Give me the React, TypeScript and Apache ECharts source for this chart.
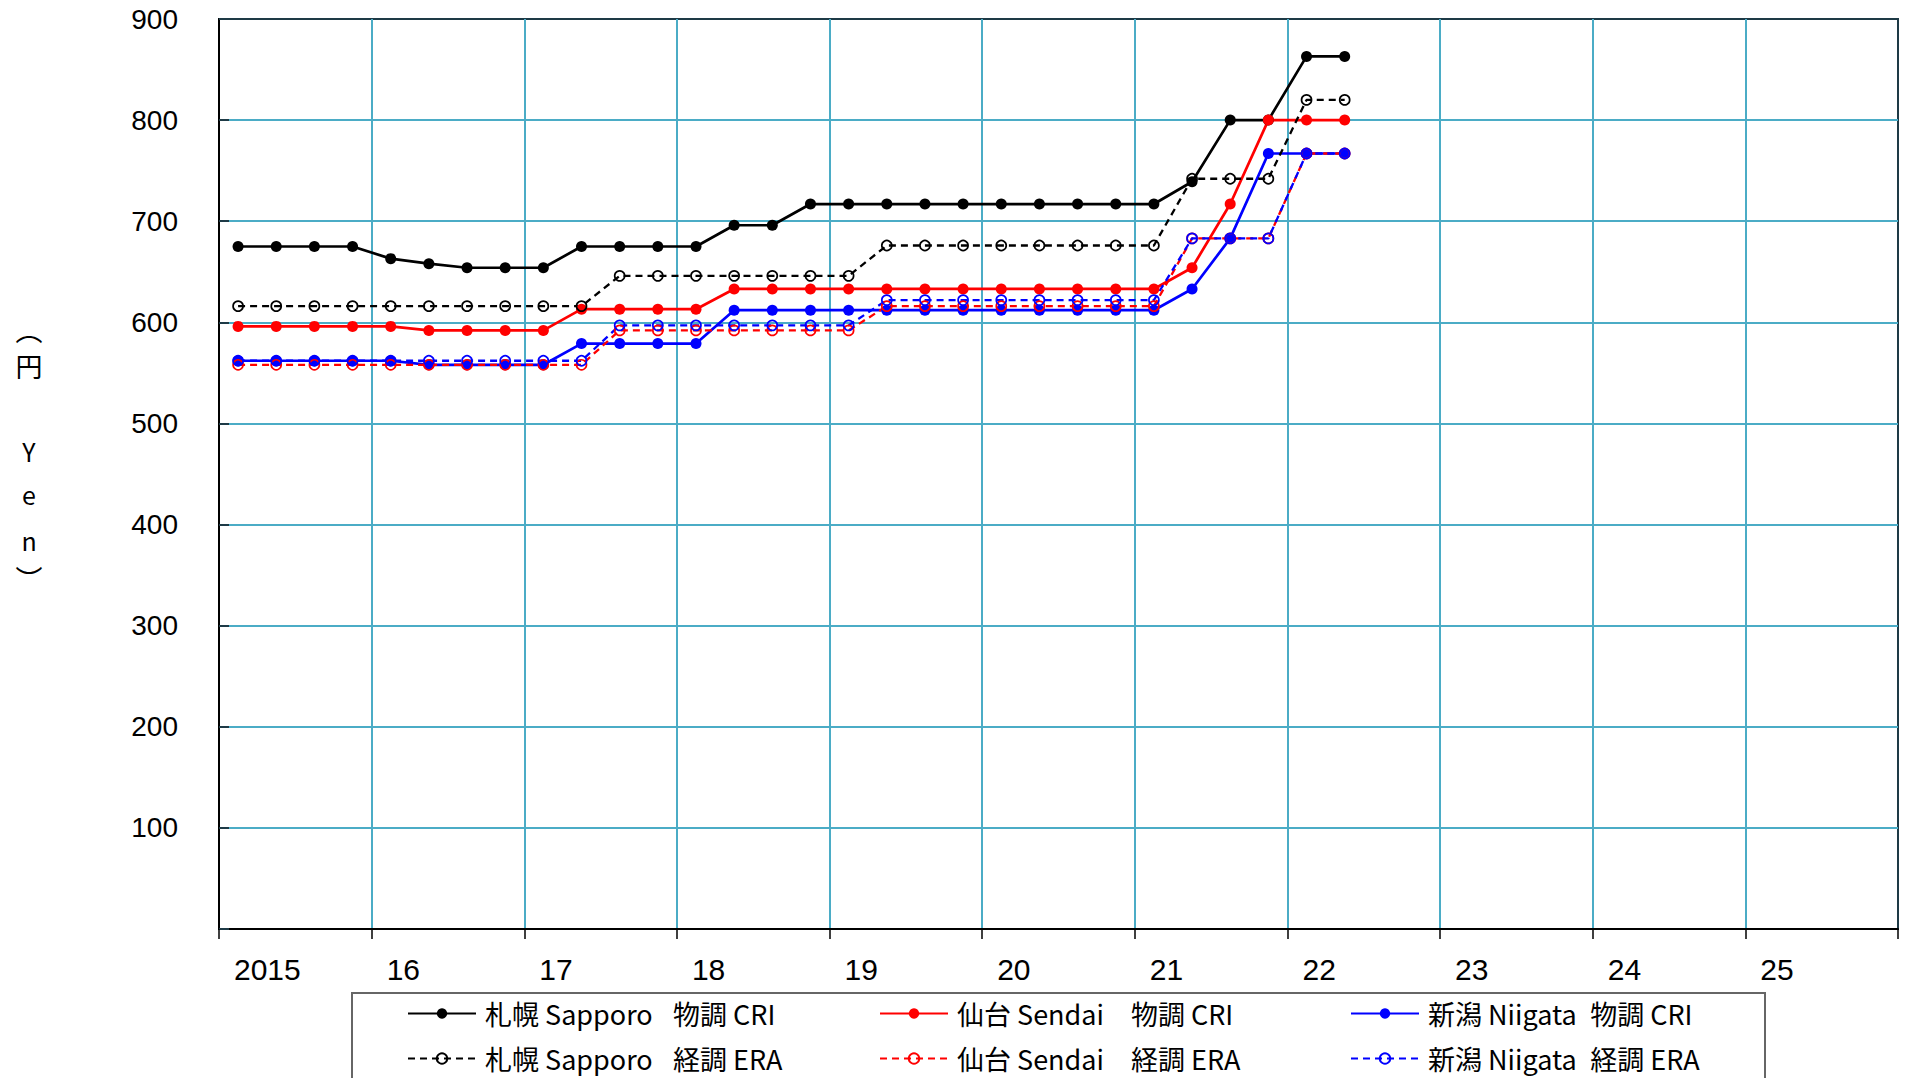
import React, { useEffect, useRef } from 'react';
import * as echarts from 'echarts';

// Quarter categories (2015 Q1 .. 2022 Q2)
const quarters = [
  '2015Q1', '2015Q2', '2015Q3', '2015Q4',
  '2016Q1', '2016Q2', '2016Q3', '2016Q4',
  '2017Q1', '2017Q2', '2017Q3', '2017Q4',
  '2018Q1', '2018Q2', '2018Q3', '2018Q4',
  '2019Q1', '2019Q2', '2019Q3', '2019Q4',
  '2020Q1', '2020Q2', '2020Q3', '2020Q4',
  '2021Q1', '2021Q2', '2021Q3', '2021Q4',
  '2022Q1', '2022Q2',
];

const xTickLabels = ['2015', '16', '17', '18', '19', '20', '21', '22', '23', '24', '25'];

// 札幌 Sapporo 物調 CRI
const sapporoCRI = [675, 675, 675, 675, 663, 658, 654, 654, 654, 675, 675, 675, 675, 696, 696, 717, 717, 717, 717, 717, 717, 717, 717, 717, 717, 739, 800, 800, 863, 863];
// 仙台 Sendai 物調 CRI
const sendaiCRI = [596, 596, 596, 596, 596, 592, 592, 592, 592, 613, 613, 613, 613, 633, 633, 633, 633, 633, 633, 633, 633, 633, 633, 633, 633, 654, 717, 800, 800, 800];
// 新潟 Niigata 物調 CRI
const niigataCRI = [562, 562, 562, 562, 562, 558, 558, 558, 558, 579, 579, 579, 579, 612, 612, 612, 612, 612, 612, 612, 612, 612, 612, 612, 612, 633, 683, 767, 767, 767];
// 札幌 Sapporo 経調 ERA
const sapporoERA = [616, 616, 616, 616, 616, 616, 616, 616, 616, 616, 646, 646, 646, 646, 646, 646, 646, 676, 676, 676, 676, 676, 676, 676, 676, 742, 742, 742, 820, 820];
// 仙台 Sendai 経調 ERA
const sendaiERA = [558, 558, 558, 558, 558, 558, 558, 558, 558, 558, 592, 592, 592, 592, 592, 592, 592, 616, 616, 616, 616, 616, 616, 616, 616, 683, 683, 683, 767, 767];
// 新潟 Niigata 経調 ERA
const niigataERA = [562, 562, 562, 562, 562, 562, 562, 562, 562, 562, 597, 597, 597, 597, 597, 597, 597, 622, 622, 622, 622, 622, 622, 622, 622, 683, 683, 683, 767, 767];

const seriesNames = [
  '札幌 Sapporo\u2002\u2005物調 CRI',
  '仙台 Sendai　物調 CRI',
  '新潟 Niigata\u2002物調 CRI',
  '札幌 Sapporo\u2002\u2005経調 ERA',
  '仙台 Sendai　経調 ERA',
  '新潟 Niigata\u2002経調 ERA',
];
const seriesValues = [sapporoCRI, sendaiCRI, niigataCRI, sapporoERA, sendaiERA, niigataERA];
const seriesColors = ['#000000', '#FF0000', '#0000FF', '#000000', '#FF0000', '#0000FF'];
const seriesDashed = [false, false, false, true, true, true];

const quarterPos = (q: string) => {
  const year = parseInt(q.slice(0, 4), 10);
  const qq = parseInt(q.slice(5), 10);
  return year + (qq - 0.5) / 4;
};

const GRID_BLUE = '#4BACC6';
const BORDER_DARK = '#1E3A46';
const CJK = "'Noto Sans CJK JP', 'Noto Sans', sans-serif";
const ARIAL = "'Liberation Sans', Arial, sans-serif";

export default function App() {
  const ref = useRef<HTMLDivElement>(null);

  useEffect(() => {
    if (!ref.current) return;
    const chart = echarts.init(ref.current, null, { renderer: 'svg' });

    const series = seriesValues.map((vals, k) => {
      const dashed = seriesDashed[k];
      const color = seriesColors[k];
      return {
        name: seriesNames[k],
        type: 'line',
        data: vals.map((v, i) => [quarterPos(quarters[i]), v]),
        symbol: 'circle',
        symbolSize: dashed ? 10 : 11,
        showSymbol: true,
        itemStyle: dashed
          ? { color: 'rgba(0,0,0,0)', borderColor: color, borderWidth: 1.7 }
          : { color: color, borderWidth: 0 },
        lineStyle: dashed
          ? { color: color, width: 2.3, type: [7, 5] }
          : { color: color, width: 2.7, type: 'solid' },
        emphasis: { disabled: true },
        z: 3,
      };
    });

    const colLefts = [407, 879, 1350];
    const rowTops = [1000, 1045];
    const legends = seriesNames.map((name, k) => ({
      data: [name],
      left: colLefts[k % 3],
      top: rowTops[Math.floor(k / 3)],
      orient: 'horizontal',
      itemWidth: 68,
      itemHeight: 13,
      padding: 0,
      selectedMode: false,
      textStyle: { fontSize: 27, fontFamily: CJK, color: '#000', padding: [0, 0, 0, 4] },
    }));

    const titleX = 29;
    const titleChars = [
      { t: '︵', y: 329, s: 27 },
      { t: '円', y: 365, s: 27 },
      { t: 'Y', y: 451, s: 25 },
      { t: 'e', y: 494, s: 25 },
      { t: 'n', y: 540, s: 25 },
      { t: '︶', y: 578, s: 27 },
    ];

    chart.setOption({
      animation: false,
      backgroundColor: '#ffffff',
      grid: {
        left: 219,
        top: 19,
        right: 7,
        bottom: 149,
        show: true,
        borderColor: BORDER_DARK,
        borderWidth: 2,
        backgroundColor: 'rgba(0,0,0,0)',
      },
      xAxis: {
        type: 'value',
        min: 2015,
        max: 2026,
        interval: 1,
        axisLine: { show: true, onZero: false, lineStyle: { color: '#000', width: 2 } },
        axisTick: { show: true, inside: false, length: 10, lineStyle: { color: '#000', width: 1.5 } },
        splitLine: {
          show: true,
          showMinLine: false,
          showMaxLine: false,
          lineStyle: { color: GRID_BLUE, width: 2 },
        },
        axisLabel: {
          show: true,
          formatter: (v: number) => xTickLabels[Math.round(v) - 2015] ?? '',
          fontSize: 30,
          fontFamily: ARIAL,
          color: '#000',
          align: 'left',
          padding: [0, 0, 0, 15],
          margin: 25,
          showMaxLabel: true,
        },
      },
      yAxis: {
        type: 'value',
        min: 0,
        max: 900,
        interval: 100,
        axisLine: { show: true, onZero: false, lineStyle: { color: '#000', width: 2 } },
        axisTick: { show: true, inside: true, length: 10, lineStyle: { color: BORDER_DARK, width: 2 } },
        splitLine: {
          show: true,
          showMinLine: false,
          showMaxLine: false,
          lineStyle: { color: GRID_BLUE, width: 2 },
        },
        axisLabel: {
          formatter: (v: number) => (v === 0 ? '' : String(v)),
          fontSize: 28,
          fontFamily: ARIAL,
          color: '#000',
          margin: 41,
        },
      },
      legend: legends,
      series,
      graphic: [
        {
          type: 'rect',
          shape: { x: 352, y: 993, width: 1413, height: 140 },
          style: { fill: 'rgba(0,0,0,0)', stroke: '#666666', lineWidth: 2 },
          silent: true,
          z: 1,
        },
        ...titleChars.map((c) => ({
          type: 'text',
          x: titleX,
          y: c.y,
          style: {
            text: c.t,
            fontSize: c.s,
            fontFamily: CJK,
            fill: '#000',
            align: 'center',
            verticalAlign: 'middle',
            textAlign: 'center',
            textVerticalAlign: 'middle',
          },
          silent: true,
        })),
      ],
    });

    return () => {
      chart.dispose();
    };
  }, []);

  return (
    <div
      ref={ref}
      style={{ position: 'absolute', left: 0, top: 0, width: 1905, height: 1078, background: '#fff' }}
    />
  );
}
